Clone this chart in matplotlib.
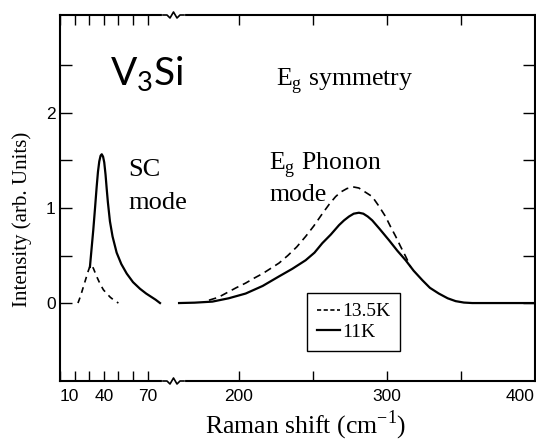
import matplotlib
matplotlib.use("Agg")
import matplotlib.pyplot as plt
from matplotlib.lines import Line2D

# SC mode region (left part of broken axis)
sc_x_11k = [30.5, 31.5, 32.8, 34.0, 35.1, 36.0, 36.9, 37.8, 38.6, 39.5, 40.3, 41.2, 42.0,
            42.8, 44.2, 46.0, 48.8, 52.0, 55.7, 60.0, 64.8, 69.0, 72.0, 75.5, 78.5]
sc_y_11k = [0.38, 0.55, 0.77, 1.00, 1.22, 1.38, 1.49, 1.55, 1.565, 1.54, 1.48, 1.35, 1.20,
            1.06, 0.86, 0.70, 0.53, 0.41, 0.31, 0.22, 0.15, 0.10, 0.07, 0.035, 0.0]
sc_x_135k = [22.3, 24.0, 26.0, 28.0, 29.4, 30.6, 31.7, 33.0, 35.1, 37.5, 39.7, 42.0,
             44.5, 47.0, 50.0]
sc_y_135k = [0.0, 0.07, 0.17, 0.27, 0.34, 0.39, 0.40, 0.36, 0.28, 0.20, 0.14, 0.10,
             0.06, 0.03, 0.0]

# Eg phonon region (right part)
ph_x_11k = [159.5, 170, 182, 193, 204.5, 216, 227, 236, 245, 251, 256.3, 262, 267.6, 271,
            274.3, 277.5, 281, 284, 287, 290, 295, 301.4, 307, 312.6, 318, 323.9, 329,
            335, 341, 346.4, 352, 357.6, 400]
ph_y_11k = [0.0, 0.004, 0.015, 0.05, 0.10, 0.18, 0.28, 0.36, 0.45, 0.53, 0.63, 0.72, 0.82,
            0.87, 0.91, 0.94, 0.95, 0.94, 0.91, 0.87, 0.78, 0.66, 0.55, 0.45, 0.34, 0.24,
            0.16, 0.10, 0.05, 0.02, 0.005, 0.0, 0.0]
ph_x_135k = [179.7, 186, 192, 198, 204.5, 210, 216, 221, 227, 233, 239, 245, 250.5, 256.3,
             261, 265.3, 269, 273, 277.7, 281, 285, 290, 294.5, 299, 302.5, 305.9, 309,
             312.6, 316]
ph_y_135k = [0.03, 0.06, 0.11, 0.16, 0.21, 0.26, 0.31, 0.36, 0.42, 0.50, 0.59, 0.70, 0.81,
             0.94, 1.04, 1.12, 1.17, 1.205, 1.22, 1.21, 1.17, 1.12, 1.02, 0.91, 0.80, 0.70,
             0.60, 0.49, 0.38]

left_ticks = [10, 20, 30, 40, 50, 60, 70]
left_labels = ["10", "", "", "40", "", "", "70"]
right_ticks = [200, 250, 300, 350, 400]
right_labels = ["200", "", "300", "", "400"]
y_ticks = [0, 0.5, 1, 1.5, 2, 2.5]
y_labels = ["0", "", "1", "", "2", ""]

serif = "Liberation Serif"
tickfont = "Liberation Sans"

W, H = 536, 441
fig = plt.figure(figsize=(W / 100, H / 100), dpi=100)

def px_rect(x0, x1, y0, y1):
    return [x0 / W, 1 - y1 / H, (x1 - x0) / W, (y1 - y0) / H]

ax1 = fig.add_axes(px_rect(60, 173, 15, 381))
ax2 = fig.add_axes(px_rect(173, 535, 15, 381))
ax2.set_facecolor("none")

ylim = (-0.82, 3.03)
for ax in (ax1, ax2):
    ax.set_ylim(*ylim)
    for s in ax.spines.values():
        s.set_linewidth(1.5)
    ax.tick_params(direction="in", length=7.5, width=1.0, top=True, labelsize=12.5, pad=6)

ax1.set_xlim(10, 87.4)
ax2.set_xlim(155.4, 400)
ax1.spines["right"].set_visible(False)
ax2.spines["left"].set_visible(False)

ax1.plot(sc_x_11k, sc_y_11k, color="black", lw=1.6)
ax1.plot(sc_x_135k, sc_y_135k, color="black", lw=1.2, dashes=(3.5, 3))
ax2.plot(ph_x_11k, ph_y_11k, color="black", lw=1.6, label="11K")
ax2.plot(ph_x_135k, ph_y_135k, color="black", lw=1.2, dashes=(4.5, 3), label="13.5K")

ax1.set_xticks(left_ticks)
ax1.set_xticklabels(left_labels, fontfamily=tickfont, fontsize=12.5)
ax1.get_xticklabels()[0].set_horizontalalignment("left")
ax2.set_xticks(right_ticks)
ax2.set_xticklabels(right_labels, fontfamily=tickfont, fontsize=12.5)
ax2.get_xticklabels()[-1].set_horizontalalignment("right")

ax1.set_yticks(y_ticks)
ax1.set_yticklabels(y_labels, fontfamily=tickfont, fontsize=12.5)
ax1.tick_params(axis="y", length=8.5, pad=3)
ax2.set_yticks(y_ticks)
ax2.tick_params(axis="y", left=False, right=True, labelleft=False, length=8.5)

# axis break squiggles
for yb in (15, 381):
    yf = 1 - yb / H
    fig.add_artist(Line2D([164 / W, 183 / W], [yf, yf], color="white", lw=3,
                          transform=fig.transFigure))
    xs = [163, 167, 170, 173.5, 177, 180, 184]
    ds = [0, 0, 3, -3, 3, 0, 0]
    fig.add_artist(Line2D([x / W for x in xs], [1 - (yb + d) / H for d in ds],
                          color="black", lw=1.2, transform=fig.transFigure))

# annotations
ax1.text(44.2, 2.29, r"V$_\mathregular{3}$Si", fontsize=28, fontfamily="Lato",
         va="baseline", ha="left")
ax2.text(225, 2.29, r"E$_\mathregular{g}$ symmetry", fontsize=18.5, fontfamily=serif,
         va="baseline", ha="left")
ax1.text(56.6, 1.34, "SC", fontsize=19, fontfamily=serif, va="baseline", ha="left")
ax1.text(56.6, 0.99, "mode", fontsize=19, fontfamily=serif, va="baseline", ha="left")
ax2.text(220.3, 1.40, r"E$_\mathregular{g}$ Phonon", fontsize=18.5, fontfamily=serif,
         va="baseline", ha="left")
ax2.text(220.3, 1.07, "mode", fontsize=18.5, fontfamily=serif, va="baseline", ha="left")

fig.text(22 / W, 1 - 219 / H, "Intensity (arb. Units)", rotation=90, fontsize=15,
         fontfamily=serif, ha="center", va="center")
fig.text(306 / W, 1 - 433 / H, r"Raman shift (cm$^\mathregular{-1}$)", fontsize=18.5,
         fontfamily=serif, ha="center", va="baseline")

handles, labels = ax2.get_legend_handles_labels()
leg = ax2.legend(handles[::-1], labels[::-1], loc="upper left",
                 bbox_to_anchor=(307 / W, 1 - 293 / H), bbox_transform=fig.transFigure,
                 borderaxespad=0, fancybox=False, framealpha=1, edgecolor="black",
                 prop={"family": serif, "size": 14}, handlelength=1.2,
                 handletextpad=0.1, labelspacing=0.15, borderpad=0.5)
leg.get_frame().set_linewidth(1.0)
leg.get_lines()[0].set_dashes((2.5, 1.5))

fig.savefig("out.png", dpi=100)
